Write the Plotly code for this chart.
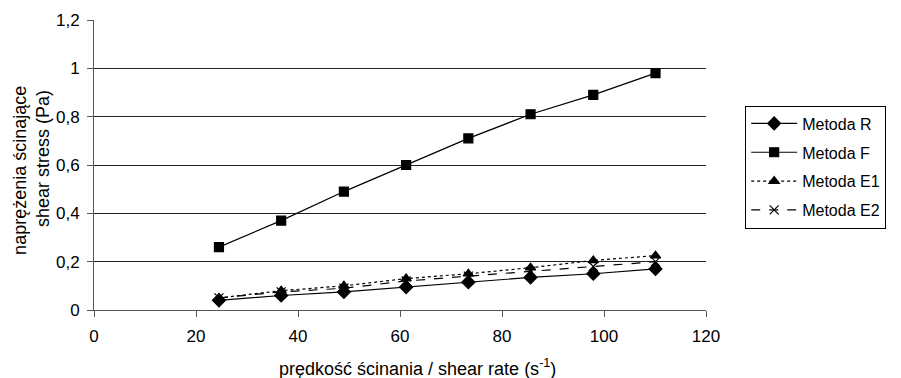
import plotly.graph_objects as go

shear_rate = [24.5, 36.7, 49.0, 61.2, 73.4, 85.6, 97.9, 110.1]
metoda_r = [0.040, 0.060, 0.075, 0.095, 0.115, 0.135, 0.150, 0.170]
metoda_f = [0.260, 0.370, 0.490, 0.600, 0.710, 0.810, 0.890, 0.980]
metoda_e1 = [0.050, 0.080, 0.100, 0.130, 0.150, 0.175, 0.205, 0.225]
metoda_e2 = [0.050, 0.075, 0.090, 0.120, 0.140, 0.160, 0.180, 0.200]

x_ticks = [0, 20, 40, 60, 80, 100, 120]
y_ticks = [0, 0.2, 0.4, 0.6, 0.8, 1.0, 1.2]

x_title = "prędkość ścinania / shear rate (s<sup>-1</sup>)"
y_title_1 = "naprężenia ścinające"
y_title_2 = "shear stress (Pa)"

series = [
    ("Metoda R", metoda_r, "solid", "diamond", 10),
    ("Metoda F", metoda_f, "solid", "square", 9),
    ("Metoda E1", metoda_e1, "dot", "triangle-up", 9),
    ("Metoda E2", metoda_e2, "dash", "x-thin-open", 9),
]

fig = go.Figure()
for name, ys, dash, sym, sz in series:
    fig.add_trace(go.Scatter(
        x=shear_rate, y=ys, name=name, mode="lines+markers",
        legendgroup=name,
        line=dict(color="black", width=1.2, dash=dash),
        marker=dict(symbol=sym, size=sz, color="black",
                    line=dict(color="black", width=1.2)),
    ))

fig.update_layout(
    width=901, height=378,
    margin=dict(l=94, r=195, t=20, b=68),
    paper_bgcolor="white", plot_bgcolor="white",
    separators=", ",
    font=dict(family="Liberation Sans, Arial, sans-serif", size=17, color="black"),
    showlegend=True,
    legend=dict(
        x=1.064, y=0.705, xanchor="left", yanchor="top",
        bordercolor="black", borderwidth=1, bgcolor="white",
        font=dict(size=16), tracegroupgap=5, itemwidth=46,
    ),
    xaxis=dict(
        range=[0, 120], tickvals=x_ticks, automargin=False,
        showgrid=False, zeroline=False, showline=True, linecolor="#555555",
        linewidth=1, ticks="outside", ticklen=6, tickcolor="#555555",
        tickfont=dict(size=17), ticklabelstandoff=5,
    ),
    yaxis=dict(
        range=[0, 1.2], tickvals=y_ticks, automargin=False,
        showgrid=True, gridcolor="#222222", gridwidth=1, zeroline=False,
        showline=True, linecolor="#555555", linewidth=1,
        ticks="outside", ticklen=6, tickcolor="#555555",
        tickfont=dict(size=17), ticklabelstandoff=4,
    ),
    annotations=[
        dict(text=x_title, xref="paper", yref="paper", x=0.528, y=-0.197,
             xanchor="center", yanchor="middle", showarrow=False,
             font=dict(size=18)),
        dict(text=y_title_1, xref="paper", yref="paper", x=-0.121, y=0.483,
             xanchor="center", yanchor="middle", showarrow=False,
             textangle=-90, font=dict(size=18)),
        dict(text=y_title_2, xref="paper", yref="paper", x=-0.083, y=0.521,
             xanchor="center", yanchor="middle", showarrow=False,
             textangle=-90, font=dict(size=18)),
    ],
)

fig.write_html("out.html", config={"displayModeBar": False},
               post_script="document.body.style.margin='0px';")
